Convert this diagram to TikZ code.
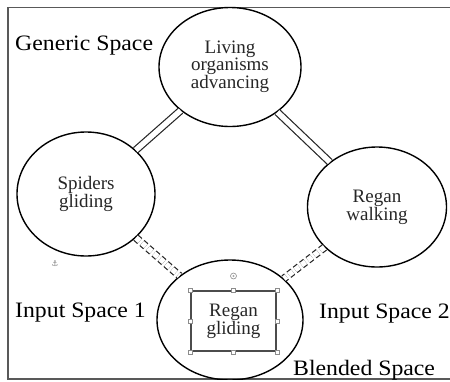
\documentclass[tikz,border=0pt]{standalone}
\usepackage{fontspec}
\setmainfont{Liberation Serif}
\newfontfamily\labelfont[FakeStretch=1.08]{Liberation Serif}
\newfontfamily\symfont{DejaVu Sans}
\usetikzlibrary{shapes.geometric}

\tikzset{
  space/.style={ellipse, draw=black, line width=1.4pt, inner sep=0pt,
    align=center, text=black!85, font=\fontsize{19}{17.2}\selectfont},
  tag/.style={anchor=base west, inner sep=0pt, text=black,
    font=\labelfont\fontsize{22}{24}\selectfont},
  link/.style={double=white, double distance=5.4pt, line width=1.2pt, draw=black!85},
  dlink/.style={link, dash pattern=on 5pt off 3pt},
  frameline/.style={draw=black!65, line width=1.6pt},
  handle/.style={draw=black!45, fill=white, line width=0.5pt, minimum size=4pt,
    inner sep=0pt, rectangle}
}

\begin{document}
\begin{tikzpicture}[x=1pt, y=-1pt]
  \useasboundingbox (0,0) rectangle (450,381);
  \begin{scope}
  \clip (0,0) rectangle (450,379);

  % outer frame (open on the right)
  \draw[frameline] (452,7.5) -- (8,7.5) -- (8,379) -- (452,379);

  % the four mental spaces
  \node[space, minimum width=142pt, minimum height=119pt] (gen) at (230,67)
    {Living\\organisms\\advancing};
  \node[space, minimum width=138pt, minimum height=124pt] (in1) at (86,194)
    {Spiders\\gliding};
  \node[space, minimum width=139pt, minimum height=120pt] (in2) at (377,207)
    {Regan\\walking};
  \node[space, minimum width=146pt, minimum height=120pt] (bl) at (230,320) {};

  % mappings between the spaces
  \draw[link] (gen) -- (in1);
  \draw[link] (gen) -- (in2);
  \draw[dlink] (in1) -- (bl);
  \draw[dlink] (in2) -- (bl);

  % selected text box inside the blend
  \node[draw=black!70, line width=1.5pt, minimum width=85pt, minimum height=60pt,
        inner sep=0pt, align=center, text=black!85,
        font=\fontsize{19}{17.2}\selectfont] (box) at (233.5,321) {Regan\\gliding};
  \foreach \a/\n in {north west/h1, north/h2, north east/h3, east/h4,
                     south east/h5, south/h6, south west/h7, west/h8}
    \node[handle] (\n) at (box.\a) {};
  \node[circle, draw=black!45, fill=white, line width=0.6pt, minimum size=6pt,
        inner sep=0pt] (rot) at (233.5,276) {};
  \node[circle, fill=black!35, minimum size=2.2pt, inner sep=0pt] (rotdot) at (rot) {};

  % anchor mark
  \node[text=black!50, font=\symfont\fontsize{8}{8}\selectfont] (anc) at (55,264) {⚓};

  % space labels
  \node[tag] (lgen) at (15,50.5) {Generic Space};
  \node[tag] (lin1) at (15,317) {Input Space 1};
  \node[tag] (lin2) at (319,318) {Input Space 2};
  \node[tag] (lbl) at (293,375) {Blended Space};
  \end{scope}
\end{tikzpicture}
\end{document}
